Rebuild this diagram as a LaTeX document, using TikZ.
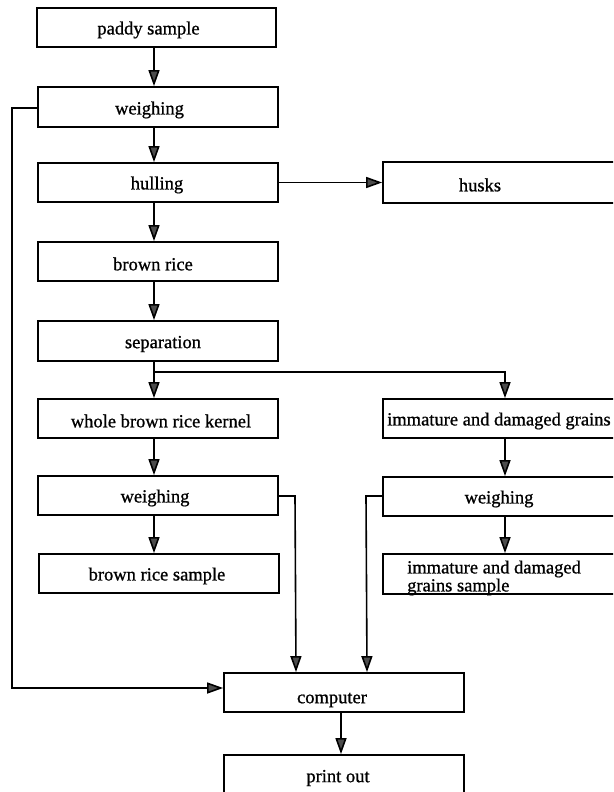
\documentclass[tikz,border=0pt]{standalone}
\usepackage{fontspec}
\setmainfont{Liberation Serif}
\newfontfamily\dfont{Liberation Serif}[FakeBold=0.9]
\usetikzlibrary{arrows.meta}
\begin{document}
\begin{tikzpicture}[x=1pt,y=-1pt,
  box/.style={draw, line width=1.8pt, inner sep=0pt, minimum height=39pt},
  lbox/.style={box, minimum width=240pt},
  txt/.style={font=\dfont\fontsize{18.5}{18}\selectfont, inner sep=0pt},
  arr/.style={line width=1.6pt, -{Triangle[length=16pt,width=11pt,fill=black!70]}},
  conn/.style={line width=1.6pt}]
\useasboundingbox (0,0) rectangle (613,792);
\clip (0,0) rectangle (613,792);
% left column
\node[lbox, minimum width=239pt] (paddy) at (156.5,27.5) {};
\node[lbox, minimum height=40pt] (weighA) at (158,107) {};
\node[lbox] (hull) at (158,182.5) {};
\node[lbox] (brown) at (158,261.5) {};
\node[lbox, minimum height=40pt] (sep) at (158,341) {};
\node[lbox] (whole) at (158,418.5) {};
\node[lbox] (weighB) at (158,495.5) {};
\node[lbox] (brsample) at (159,573.5) {};
% right column
\node[box, minimum width=260pt, minimum height=41pt] (husks) at (513,182.5) {};
\node[box, minimum width=244pt] (immat) at (505,418.5) {};
\node[box, minimum width=244pt] (weighC) at (505,496.5) {};
\node[box, minimum width=244pt, minimum height=40pt] (imsample) at (505,574) {};
% bottom
\node[lbox] (computer) at (344,692.5) {};
\node[lbox, minimum height=46pt] (printout) at (344,778) {};
% texts
\node[txt] at (148.5,30) {paddy sample};
\node[txt] at (149.5,110) {weighing};
\node[txt] at (157,185) {hulling};
\node[txt] at (153,264) {brown rice};
\node[txt] at (163,344) {separation};
\node[txt] at (161,421) {whole brown rice kernel};
\node[txt] at (155,498) {weighing};
\node[txt] at (157,576) {brown rice sample};
\node[txt] at (480,185) {husks};
\node[txt, anchor=west] at (387,421) {immature and damaged grains};
\node[txt] at (499,499) {weighing};
\node[txt, anchor=west, align=left] at (407,578) {immature and damaged\\grains sample};
\node[txt] at (332,700) {computer};
\node[txt] at (338,778) {print out};
% helper coordinates
\coordinate (lc) at (154,0);
\coordinate (br) at (154,372);
\coordinate (farleft) at (12,108);
\coordinate (cin) at (0,688);
\coordinate (cA) at (296,0);
\coordinate (cB) at (367,0);
\coordinate (cP) at (341,0);
\coordinate (ra) at (295,496);
\coordinate (rb) at (366,496);
% connectors
\draw[arr] (paddy.south -| lc) -- (weighA.north -| lc);
\draw[arr] (weighA.south -| lc) -- (hull.north -| lc);
\draw[arr] (hull.south -| lc) -- (brown.north -| lc);
\draw[arr] (brown.south -| lc) -- (sep.north -| lc);
\draw[arr] (sep.south -| lc) -- (whole.north -| lc);
\draw[arr] (whole.south -| lc) -- (weighB.north -| lc);
\draw[arr] (weighB.south -| lc) -- (brsample.north -| lc);
\draw[arr] (hull.east) -- (husks.west |- hull.east);
\draw[arr] (br) -| (immat.north);
\draw[arr] (immat.south) -- (weighC.north);
\draw[arr] (weighC.south) -- (imsample.north);
\draw[arr] (weighA.west |- farleft) -- (farleft) |- (computer.west |- cin);
\draw[arr] (weighB.east |- ra) -- (ra) -- (computer.north -| cA);
\draw[arr] (weighC.west |- rb) -- (rb) -- (computer.north -| cB);
\draw[arr] (computer.south -| cP) -- (printout.north -| cP);
\end{tikzpicture}
\end{document}
